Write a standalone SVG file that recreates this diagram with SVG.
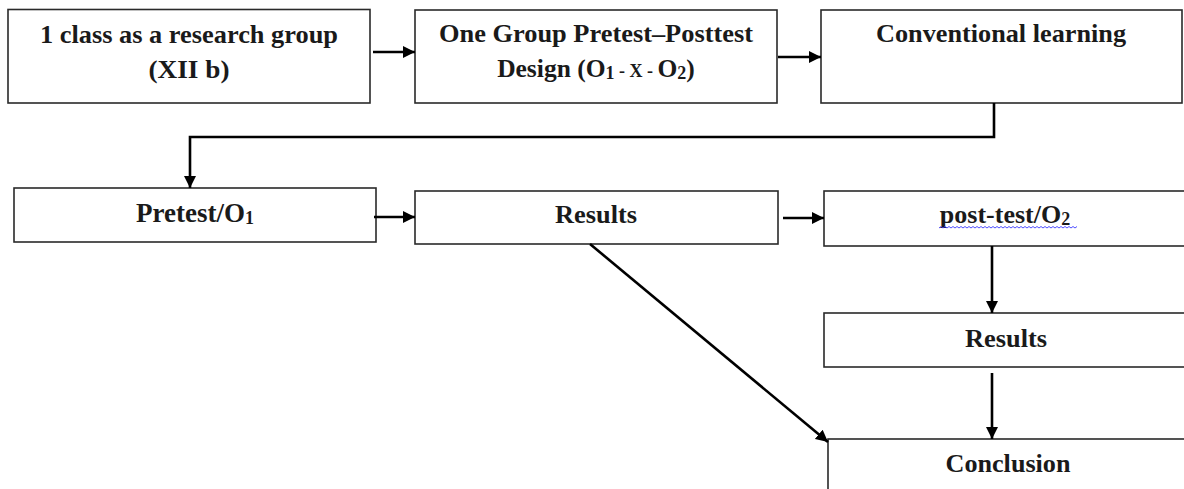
<svg xmlns="http://www.w3.org/2000/svg" width="1184" height="489" viewBox="0 0 1184 489">
  <style>
    .box { fill: #ffffff; stroke: #2a2a2a; stroke-width: 1.6; }
    .lbl { font-family: "Liberation Serif", "Times New Roman", serif; font-weight: bold; font-size: 26px; fill: #1a1a1a; text-anchor: middle; }
    .sm { font-size: 18px; }
    .link { fill: none; stroke: #000000; stroke-width: 2.6; }
  </style>
  <defs>
    <marker id="arrow" markerUnits="userSpaceOnUse" markerWidth="13" markerHeight="13" viewBox="0 0 13 13" refX="12" refY="6.5" orient="auto">
      <path d="M0,0.5 L12,6.5 L0,12.5 Z" fill="#000000"/>
    </marker>
  </defs>
  <rect width="1184" height="489" fill="#ffffff"/>

  <g id="node-class">
    <rect class="box" x="8" y="9.5" width="362" height="93.5"/>
    <text class="lbl" x="189" y="43" textLength="298" lengthAdjust="spacingAndGlyphs">1 class as a research group</text>
    <text class="lbl" x="189" y="78" textLength="81" lengthAdjust="spacingAndGlyphs">(XII b)</text>
  </g>

  <g id="node-design">
    <rect class="box" x="415" y="10" width="362" height="93"/>
    <text class="lbl" x="596" y="42" textLength="314" lengthAdjust="spacingAndGlyphs">One Group Pretest–Posttest</text>
    <text class="lbl" x="596" y="77" style="font-size:25.5px">Design (O<tspan class="sm" dy="2">1</tspan><tspan class="sm" dy="-2"> - X - </tspan>O<tspan class="sm" dy="2">2</tspan><tspan dy="-2">)</tspan></text>
  </g>

  <g id="node-conventional">
    <rect class="box" x="821" y="10" width="361" height="93"/>
    <text class="lbl" x="1001" y="42" textLength="250" lengthAdjust="spacingAndGlyphs">Conventional learning</text>
  </g>

  <g id="node-pretest">
    <rect class="box" x="14" y="188" width="362" height="54"/>
    <text class="lbl" x="195" y="222" style="font-size:27px">Pretest/O<tspan class="sm" dy="2">1</tspan></text>
  </g>

  <g id="node-results-1">
    <rect class="box" x="415" y="191" width="363" height="53"/>
    <text class="lbl" x="596" y="223" textLength="82" lengthAdjust="spacingAndGlyphs">Results</text>
  </g>

  <g id="node-posttest">
    <rect class="box" x="824" y="191" width="370" height="55"/>
    <text class="lbl" x="1005" y="223">post-test/O<tspan class="sm" dy="2">2</tspan></text>
    <!-- spell-check squiggle under the label -->
    <path d="M939,228 l2,-1.5 l2,1.5 l2,-1.5 l2,1.5 l2,-1.5 l2,1.5 l2,-1.5 l2,1.5 l2,-1.5 l2,1.5 l2,-1.5 l2,1.5 l2,-1.5 l2,1.5 l2,-1.5 l2,1.5 l2,-1.5 l2,1.5 l2,-1.5 l2,1.5 l2,-1.5 l2,1.5 l2,-1.5 l2,1.5 l2,-1.5 l2,1.5 l2,-1.5 l2,1.5 l2,-1.5 l2,1.5 l2,-1.5 l2,1.5 l2,-1.5 l2,1.5 l2,-1.5 l2,1.5 l2,-1.5 l2,1.5 l2,-1.5 l2,1.5 l2,-1.5 l2,1.5 l2,-1.5 l2,1.5 l2,-1.5 l2,1.5 l2,-1.5 l2,1.5 l2,-1.5 l2,1.5 l2,-1.5 l2,1.5 l2,-1.5 l2,1.5 l2,-1.5 l2,1.5 l2,-1.5 l2,1.5 l2,-1.5 l2,1.5 l2,-1.5 l2,1.5 l2,-1.5 l2,1.5 l2,-1.5 l2,1.5 l2,-1.5 l2,1.5 l2,-1.5" fill="none" stroke="#3b3bff" stroke-width="0.9"/>
  </g>

  <g id="node-results-2">
    <rect class="box" x="824" y="313" width="370" height="54"/>
    <text class="lbl" x="1006" y="347" textLength="82" lengthAdjust="spacingAndGlyphs">Results</text>
  </g>

  <g id="node-conclusion">
    <rect class="box" x="828" y="439" width="370" height="60"/>
    <text class="lbl" x="1008" y="472" textLength="125" lengthAdjust="spacingAndGlyphs">Conclusion</text>
  </g>

  <g id="connectors">
    <path class="link" d="M373,52 L415,52" marker-end="url(#arrow)"/>
    <path class="link" d="M778,57 L821,57" marker-end="url(#arrow)"/>
    <path class="link" d="M994,103 L994,137 L190,137 L190,188" marker-end="url(#arrow)"/>
    <path class="link" d="M374,217 L415,217" marker-end="url(#arrow)"/>
    <path class="link" d="M783,218 L824,218" marker-end="url(#arrow)"/>
    <path class="link" d="M992,246 L992,313" marker-end="url(#arrow)"/>
    <path class="link" d="M992,373 L992,439" marker-end="url(#arrow)"/>
    <path class="link" d="M590,244 L828,442" marker-end="url(#arrow)"/>
  </g>
</svg>
